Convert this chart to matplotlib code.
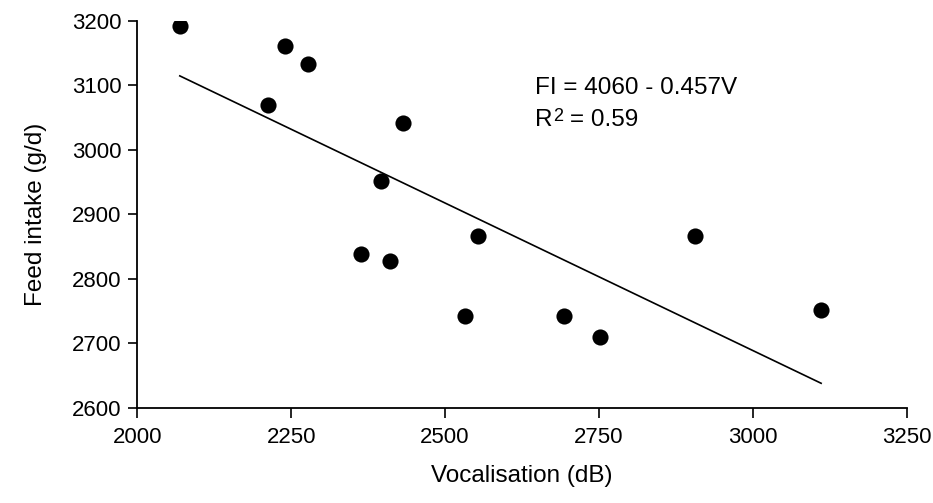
"""Feed intake vs vocalisation scatter with fitted regression line."""

import matplotlib

matplotlib.use("Agg")
import matplotlib.pyplot as plt
import numpy as np

# values
vocalisation = [2069, 2213, 2240, 2278, 2364, 2396, 2411, 2431, 2533, 2554, 2694, 2752, 2906, 3111]
feed_intake = [3192, 3070, 3160, 3133, 2839, 2951, 2827, 3042, 2742, 2867, 2742, 2710, 2866, 2752]

# fitted equation printed on the chart: FI = 4060 - 0.457V
fit_intercept = 4060
fit_slope = -0.457
r_squared = 0.59

x_ticks = [2000, 2250, 2500, 2750, 3000, 3250]
y_ticks = [2600, 2700, 2800, 2900, 3000, 3100, 3200]

plt.rcParams["font.family"] = ["Liberation Sans", "DejaVu Sans"]

fig = plt.figure(figsize=(9.33, 5.03), dpi=100)
ax = fig.add_axes([0.1472, 0.1889, 0.8246, 0.77])

ax.scatter(vocalisation, feed_intake, s=135, color="black", zorder=3, linewidths=0)

line_x = np.array([min(vocalisation), max(vocalisation)])
ax.plot(line_x, fit_intercept + fit_slope * line_x, color="black", linewidth=1.2)

# equation and R^2 (superscript drawn as its own smaller text)
ax.text(2646, 3096, f"FI = {fit_intercept} - {abs(fit_slope)}V", fontsize=17.5, va="center", ha="left")
ax.annotate("R", (2646, 3037), fontsize=17.5, va="baseline", ha="left")
ax.annotate("2", (2646, 3037), xytext=(12.8, 3.4), textcoords="offset points",
            fontsize=13, va="baseline", ha="left")
ax.annotate(f"= {r_squared}", (2646, 3037), xytext=(25, 0), textcoords="offset points",
            fontsize=17.5, va="baseline", ha="left")

ax.set_xlim(2000, 3250)
ax.set_ylim(2600, 3200)
ax.set_xticks(x_ticks)
ax.set_yticks(y_ticks)
ax.tick_params(axis="both", direction="out", labelsize=16, width=1.2, color="black")
ax.tick_params(axis="x", length=7, pad=7)
ax.tick_params(axis="y", length=6.5, pad=5)

for side in ("top", "right"):
    ax.spines[side].set_visible(False)
for side in ("left", "bottom"):
    ax.spines[side].set_linewidth(1.3)

ax.set_xlabel("Vocalisation (dB)", fontsize=17.5, labelpad=12)
ax.set_ylabel("Feed intake (g/d)", fontsize=17.5, labelpad=18)

fig.savefig("out.png", dpi=100)
plt.close(fig)
